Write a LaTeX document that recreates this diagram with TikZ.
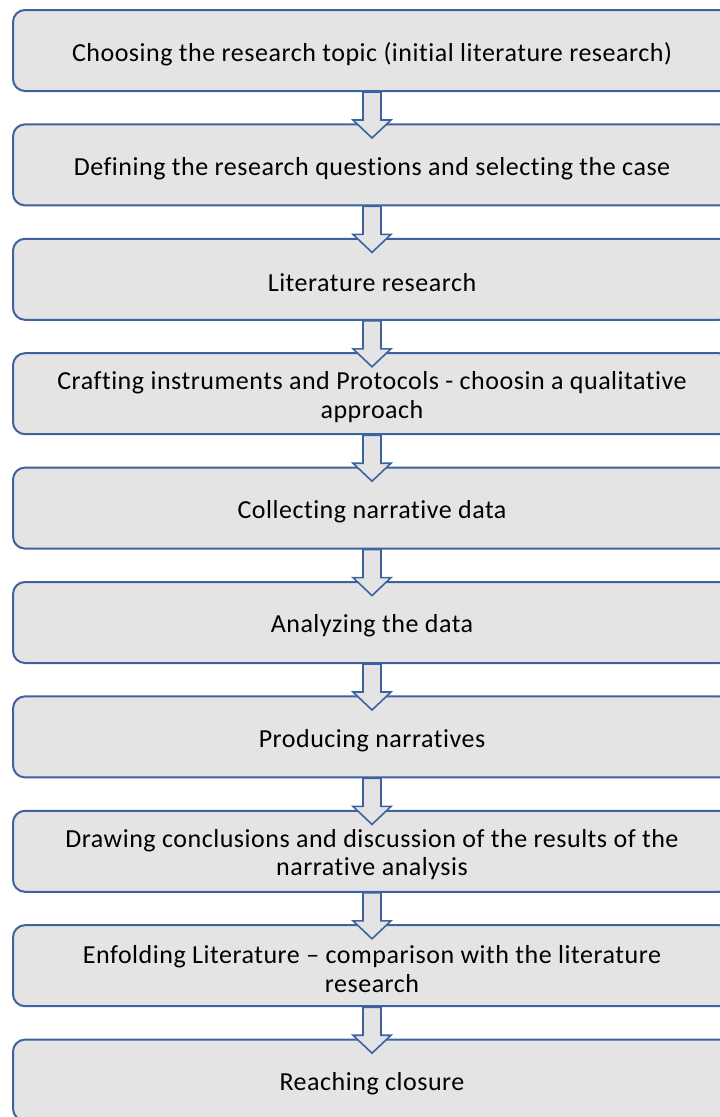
\documentclass[tikz,border=0pt]{standalone}
\usepackage{fontspec}
\setmainfont{Carlito}[Ligatures=NoCommon, LetterSpace=2]
\definecolor{boxblue}{HTML}{3E62A0}
\definecolor{boxgray}{HTML}{E4E4E4}
\begin{document}
\begin{tikzpicture}[x=1pt,y=-1pt,
  stepbox/.style={draw=boxblue, fill=boxgray, line width=2pt, rounded corners=12pt,
    minimum width=718pt, minimum height=81pt, inner sep=0pt, anchor=north west},
  steptext/.style={align=center, inner sep=0pt, font=\fontsize{26}{28.5}\selectfont},
  blockarrow/.style={draw=boxblue, fill=boxgray, line width=1.6pt, line join=miter}]
\useasboundingbox (0,0) rectangle (720,1117);
\clip (0,0) rectangle (720,1117);
\foreach \i/\t in {1/9, 2/123.4, 3/237.8, 4/352.2, 5/466.6, 6/581, 7/695.4, 8/809.8, 9/924.2, 10/1038.6}
  \node[stepbox] (b\i) at (12,\t) {};
\node[steptext] (t1) at ([yshift=-3.5pt]b1.center) {Choosing the research topic (initial literature research)};
\node[steptext] (t2) at ([yshift=-3.5pt]b2.center) {Defining the research questions and selecting the case};
\node[steptext] (t3) at ([yshift=-3.5pt]b3.center) {Literature research};
\node[steptext] (t4) at ([yshift=-3.5pt]b4.center) {Crafting instruments and Protocols - choosin a qualitative\\approach};
\node[steptext] (t5) at ([yshift=-3.5pt]b5.center) {Collecting narrative data};
\node[steptext] (t6) at ([yshift=-3.5pt]b6.center) {Analyzing the data};
\node[steptext] (t7) at ([yshift=-3.5pt]b7.center) {Producing narratives};
\node[steptext] (t8) at ([yshift=-3.5pt]b8.center) {Drawing conclusions and discussion of the results of the\\narrative analysis};
\node[steptext] (t9) at ([yshift=-3.5pt]b9.center) {Enfolding Literature -- comparison with the literature\\research};
\node[steptext] (t10) at ([yshift=-3.5pt]b10.center) {Reaching closure};
\foreach \i in {1,...,9}{
  \draw[blockarrow] ([xshift=-9pt]b\i.south) -- ++(0,28) -- ++(-10,0) -- ++(19,18)
     -- ++(19,-18) -- ++(-10,0) -- ++(0,-28) -- cycle;
}
\end{tikzpicture}
\end{document}
